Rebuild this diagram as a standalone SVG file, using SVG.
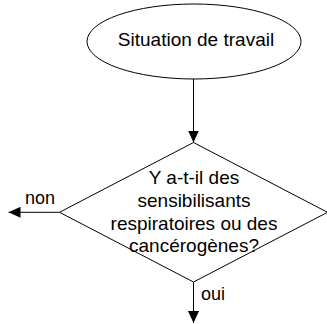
<svg xmlns="http://www.w3.org/2000/svg" width="327" height="324" viewBox="0 0 327 324">
  <style>
    .shape { fill: #ffffff; stroke: #000000; stroke-width: 1; }
    .edge { fill: none; stroke: #000000; stroke-width: 1; }
    .label { font-family: "Liberation Sans", Arial, sans-serif; font-size: 19px; fill: #000000; }
    .small { font-size: 18px; }
    .mid { text-anchor: middle; }
  </style>
  <defs>
    <marker id="arrow" viewBox="0 0 12 11" refX="12" refY="5.5" markerWidth="12" markerHeight="11" markerUnits="userSpaceOnUse" orient="auto">
      <path d="M0,0 L12,5.5 L0,11 Z" fill="#000000"/>
    </marker>
  </defs>
  <rect width="327" height="324" fill="#ffffff"/>

  <g id="connectors">
    <line class="edge" x1="193.5" y1="79" x2="193.5" y2="142.5" marker-end="url(#arrow)"/>
    <line class="edge" x1="59.5" y1="212.3" x2="8.5" y2="212.3" marker-end="url(#arrow)"/>
    <line class="edge" x1="193.5" y1="282" x2="193.5" y2="323" marker-end="url(#arrow)"/>
    <text class="label small" x="25" y="204">non</text>
    <text class="label small" x="201" y="300">oui</text>
  </g>

  <g id="start">
    <ellipse class="shape" cx="194" cy="41.5" rx="107" ry="37.5"/>
    <text class="label mid" x="196" y="46">Situation de travail</text>
  </g>

  <g id="decision">
    <polygon class="shape" points="193.5,142.5 327.5,212.3 193.5,282 59.5,212.3"/>
    <text class="label mid" x="194" y="184">Y a-t-il des</text>
    <text class="label mid" x="194" y="206.8">sensibilisants</text>
    <text class="label mid" x="194" y="229.5">respiratoires ou des</text>
    <text class="label mid" x="194" y="252.2">cancérogènes?</text>
  </g>
</svg>
